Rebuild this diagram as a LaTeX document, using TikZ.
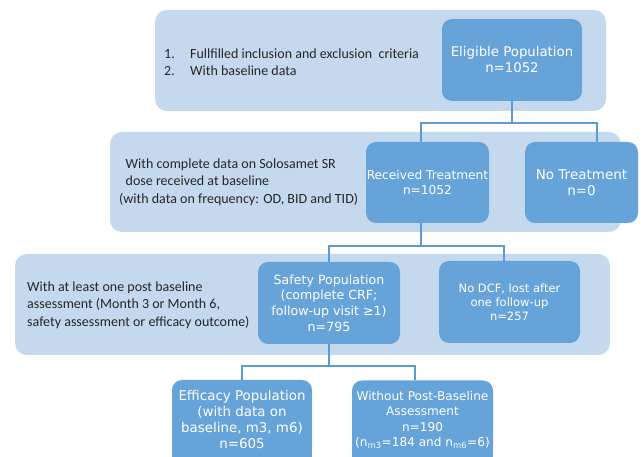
\documentclass[tikz,border=0pt]{standalone}
\usepackage{fontspec}
\setmainfont{Carlito}
\newfontfamily\boxfont{DejaVu Sans}
\usetikzlibrary{calc}
\definecolor{bandcol}{HTML}{C4D9EE}
\definecolor{boxcol}{HTML}{66A3D9}
\definecolor{linecol}{HTML}{5B9BD5}
\definecolor{txtcol}{HTML}{262626}
\tikzset{
  band/.style={fill=bandcol, rounded corners=12pt, inner sep=0pt},
  popbox/.style={fill=boxcol, rounded corners=10pt, inner sep=0pt, align=center, text=white},
  sidetext/.style={anchor=west, align=left, inner sep=0pt, text=txtcol, font=\fontsize{14}{17.3}\selectfont},
  conn/.style={draw=linecol, line width=1.8pt}
}
\begin{document}
\begin{tikzpicture}[x=1pt,y=-1pt]
\useasboundingbox (0,0) rectangle (641,457);
\clip (0,0) rectangle (641,457);
\fill[white] (0,0) rectangle (641,457);
% bands
\node[band, minimum width=451pt, minimum height=101pt] (band1) at (380.5,60.5) {};
\node[band, minimum width=511pt, minimum height=100pt] (band2) at (365.5,182) {};
\node[band, minimum width=595pt, minimum height=101pt] (band3) at (312.5,304.5) {};
% side texts
\node[sidetext] (t1) at (164,62) {\makebox[26pt][l]{1.}Fullfilled inclusion and exclusion\ \ criteria\\\makebox[26pt][l]{2.}With baseline data};
\node[sidetext] (t2) at (119,182) {\hspace*{6.5pt}With complete data on Solosamet SR\\\hspace*{6.5pt}dose received at baseline\\(with data on frequency: OD, BID and TID)};
\node[sidetext] (t3) at (27,305) {With at least one post baseline\\assessment (Month 3 or Month 6,\\safety assessment or efficacy outcome)};
% square-cornered lower parts of the bottom boxes (they run off the page)
\fill[boxcol] (172,420) rectangle (312,470);
\fill[boxcol] (352,420) rectangle (493,470);
% boxes
\node[popbox, minimum width=140pt, minimum height=82pt, font=\boxfont\fontsize{13.3}{16}\selectfont] (elig) at (512,60) {Eligible Population\\n=1052};
\node[popbox, minimum width=123pt, minimum height=81pt, font=\boxfont\fontsize{12.2}{15.5}\selectfont] (rt) at (427.5,182.5) {Received Treatment\\n=1052};
\node[popbox, minimum width=113pt, minimum height=81pt, font=\boxfont\fontsize{13.5}{15.5}\selectfont] (nt) at (581.5,182.5) {No Treatment\\n=0};
\node[popbox, minimum width=142pt, minimum height=82pt, font=\boxfont\fontsize{12.6}{15.7}\selectfont] (safe) at (329,303) {Safety Population\\(complete CRF;\\follow-up visit ≥1)\\n=795};
\node[popbox, minimum width=141pt, minimum height=82pt, font=\boxfont\fontsize{11.5}{13.8}\selectfont] (dcf) at (509.5,302) {No DCF, lost after\\one follow-up\\n=257};
\node[popbox, minimum width=140pt, minimum height=79pt, font=\boxfont\fontsize{13.4}{16}\selectfont] (eff) at (242,419.5) {Efficacy Population\\(with data on\\baseline, m3, m6)\\n=605};
\node[popbox, minimum width=141pt, minimum height=79pt, font=\boxfont\fontsize{12.1}{15.5}\selectfont] (wo) at (422.5,420) {Without Post-Baseline\\Assessment\\n=190\\(n\textsubscript{m3}=184 and n\textsubscript{m6}=6)};
% connectors
\coordinate (j1) at ($(elig.south)+(0,22)$);
\draw[conn] (elig.south) -- (j1);
\draw[conn] ($(rt.north west)!0.447!(rt.north east)$) |- (j1) -| ($(nt.north west)!0.637!(nt.north east)$);
\coordinate (j2) at ($(rt.south west)!0.447!(rt.south east)+(0,23)$);
\draw[conn] ($(rt.south west)!0.447!(rt.south east)$) -- (j2);
\draw[conn] (safe.north) |- (j2) -| ($(dcf.north west)!0.46!(dcf.north east)$);
\coordinate (j3) at ($(safe.south)+(0,22)$);
\draw[conn] (safe.south) -- (j3);
\draw[conn] (eff.north) |- (j3) -| ($(wo.north west)!0.447!(wo.north east)$);
\end{tikzpicture}
\end{document}
